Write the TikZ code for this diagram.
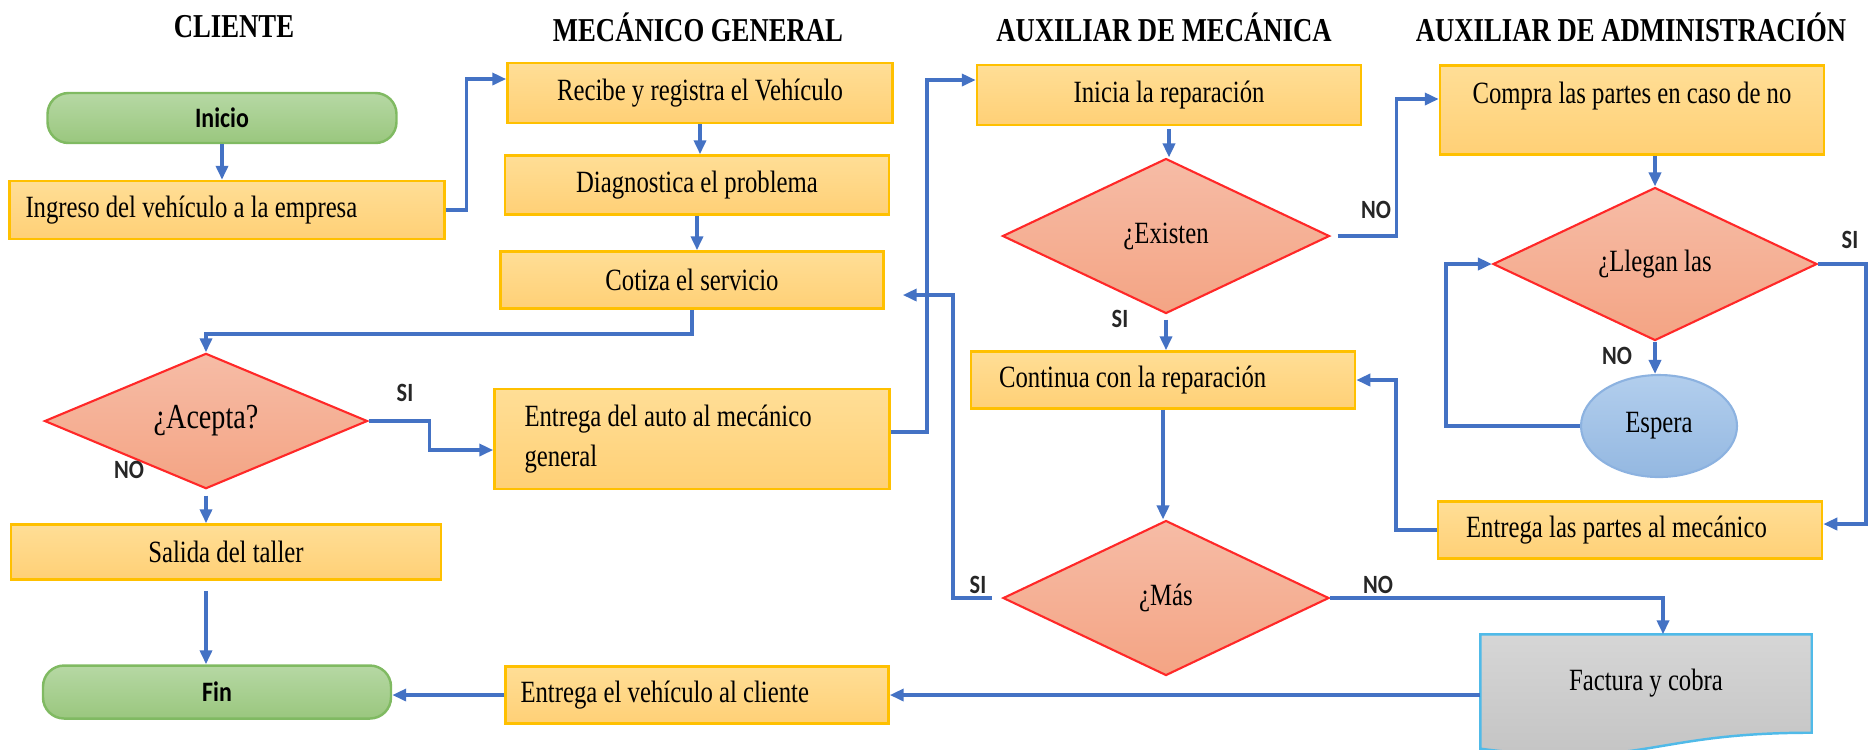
\documentclass[tikz,border=0pt]{standalone}
\usepackage{fontspec}
\setmainfont{Liberation Serif}[FakeStretch=0.8]
\newfontfamily\etiq{Carlito}[FakeStretch=0.85]
\usetikzlibrary{shapes.geometric, positioning, arrows.meta, calc, backgrounds}
\definecolor{flechaazul}{RGB}{68,114,196}
\definecolor{bordeoro}{RGB}{255,192,0}
\definecolor{naranjaA}{RGB}{255,222,150}
\definecolor{naranjaB}{RGB}{255,208,118}
\definecolor{salmonA}{RGB}{246,188,166}
\definecolor{salmonB}{RGB}{244,164,132}
\definecolor{rojoborde}{RGB}{255,40,40}
\definecolor{verdeA}{RGB}{182,216,164}
\definecolor{verdeB}{RGB}{154,199,126}
\definecolor{verdeborde}{RGB}{128,186,98}
\definecolor{azulA}{RGB}{178,206,237}
\definecolor{azulB}{RGB}{148,184,225}
\definecolor{azulborde}{RGB}{140,178,224}
\definecolor{grisA}{RGB}{214,214,214}
\definecolor{grisB}{RGB}{194,194,194}
\definecolor{celeste}{RGB}{80,186,232}
\tikzset{
  titulo/.style={font=\bfseries\fontsize{9.5}{11}\selectfont},
  inicio/.style={rectangle, rounded corners=6pt, draw=verdeborde, line width=0.7pt, top color=verdeA, bottom color=verdeB, font=\etiq\bfseries\fontsize{8}{9}\selectfont, text centered},
  proceso/.style={rectangle, draw=bordeoro, line width=0.7pt, top color=naranjaA, bottom color=naranjaB, font=\fontsize{8.8}{11}\selectfont, text centered},
  decision/.style={diamond, inner sep=0pt, draw=rojoborde, line width=0.6pt, top color=salmonA, bottom color=salmonB, font=\fontsize{8.8}{11}\selectfont},
  espera/.style={ellipse, inner sep=0pt, draw=azulborde, line width=0.6pt, top color=azulA, bottom color=azulB, font=\fontsize{8.8}{11}\selectfont},
  documento/.style={rectangle, inner sep=0pt, minimum width=3.3cm, minimum height=0.97cm, font=\fontsize{8.8}{11}\selectfont},
  flecha/.style={line width=1pt, draw=flechaazul, -{Triangle[length=1.4mm, width=1.2mm]}},
  etiqueta/.style={font=\etiq\bfseries\fontsize{7.5}{9}\selectfont, text=black!85}
}

\begin{document}
\begin{tikzpicture}
    \useasboundingbox (0,0) rectangle (18.71,-7.49);

    % 1. Titulos de los carriles
    \node[titulo] (tCliente) at (2.34,-0.27) {CLIENTE};
    \node[titulo] (tMecanico) at (6.98,-0.27) {MECÁNICO GENERAL};
    \node[titulo] (tAuxMec) at (11.64,-0.27) {AUXILIAR DE MECÁNICA};
    \node[titulo] (tAuxAdm) at (16.31,-0.27) {AUXILIAR DE ADMINISTRACIÓN};

    % 2. Cliente
    \node[inicio, minimum width=3.49cm, minimum height=0.50cm] (Inicio) at (2.22,-1.18) {Inicio};
    \node[proceso, minimum height=0.58cm, inner xsep=0.16cm, text width=4.03cm, align=flush left] (Ingreso) at (2.27,-2.10) {Ingreso del vehículo a la empresa};
    \node[decision, minimum width=3.23cm, minimum height=1.05cm, font=\fontsize{10}{12}\selectfont] (Acepta) at (2.06,-4.21) {¿Acepta?};
    \node[proceso, minimum width=4.30cm, minimum height=0.55cm] (Salida) at (2.26,-5.52) {Salida del taller};
    \node[inicio, minimum width=3.48cm, minimum height=0.53cm] (Fin) at (2.17,-6.92) {Fin};

    % 3. Mecanico general
    \node[proceso, minimum width=3.85cm, minimum height=0.60cm] (Recibe) at (7.00,-0.93) {Recibe y registra el Vehículo};
    \node[proceso, minimum width=3.84cm, minimum height=0.59cm] (Diagnostica) at (6.97,-1.85) {Diagnostica el problema};
    \node[proceso, minimum width=3.83cm, minimum height=0.57cm] (Cotiza) at (6.92,-2.80) {Cotiza el servicio};
    \node[proceso, minimum height=1.00cm, inner xsep=0.30cm, text width=3.35cm, align=flush left, font=\fontsize{8.8}{11.5}\selectfont] (EntregaAuto) at (6.92,-4.39) {Entrega del auto al mecánico\\general};
    \node[proceso, minimum height=0.57cm, inner xsep=0.15cm, text width=3.53cm, align=flush left] (EntregaVehiculo) at (6.97,-6.95) {Entrega el vehículo al cliente};

    % 4. Auxiliar de mecanica
    \node[proceso, minimum width=3.84cm, minimum height=0.60cm] (Inicia) at (11.69,-0.95) {Inicia la reparación};
    \node[decision, minimum width=3.27cm, minimum height=1.55cm] (Existen) at (11.66,-2.36) {¿Existen};
    \node[proceso, minimum height=0.57cm, inner xsep=0.28cm, text width=3.28cm, align=flush left] (Continua) at (11.63,-3.80) {Continua con la reparación};
    \node[decision, minimum width=3.26cm, minimum height=1.55cm] (Mas) at (11.66,-5.98) {¿Más};

    % 5. Auxiliar de administracion
    \node[proceso, minimum width=3.84cm, minimum height=0.89cm, text depth=0.35cm] (Compra) at (16.32,-1.10) {Compra las partes en caso de no};
    \node[decision, minimum width=3.24cm, minimum height=1.53cm] (Llegan) at (16.55,-2.64) {¿Llegan las};
    \node[espera, minimum width=1.56cm, minimum height=1.02cm] (Espera) at (16.59,-4.26) {Espera};
    \node[proceso, minimum height=0.57cm, inner xsep=0.28cm, text width=3.28cm, align=flush left] (EntregaPartes) at (16.30,-5.30) {Entrega las partes al mecánico};
    \node[documento] (Factura) at (16.46,-6.835) {Factura y cobra};
    \begin{scope}[on background layer]
        \draw[draw=celeste, line width=0.7pt, top color=grisA, bottom color=grisB]
            (Factura.north west) -- (Factura.north east) -- (Factura.south east)
            .. controls +(-1.65,0) and +(1.65,-0.21) .. ([yshift=-0.16cm]Factura.south west) -- cycle;
    \end{scope}

    % 6. Conexiones
    \draw[flecha] (Inicio.south) -- (Inicio.south |- Ingreso.north);
    \draw[flecha] (Ingreso.east) -- ++(0.21,0) |- ([yshift=0.14cm]Recibe.west);
    \draw[flecha] (Recibe.south) -- (Recibe.south |- Diagnostica.north);
    \draw[flecha] (Diagnostica.south) -- (Diagnostica.south |- Cotiza.north);
    \draw[flecha] (Cotiza.south) -- ++(0,-0.24) -| (Acepta.north);
    \draw[flecha] (Acepta.east) -- ++(0.61,0) |- ([yshift=-0.11cm]EntregaAuto.west);
    \draw[flecha, shorten <=0.6mm] (Acepta.south) -- (Acepta.south |- Salida.north);
    \draw[flecha, shorten <=1mm] (Acepta.south |- Salida.south) -- (Acepta.south |- Fin.north);
    \draw[flecha] ([yshift=0.07cm]EntregaAuto.east) -- ++(0.36,0) |- ([yshift=0.15cm]Inicia.west);
    \draw[flecha, shorten <=0.3mm] (Inicia.south) -- (Inicia.south |- Existen.north);
    \draw[flecha, shorten <=0.7mm] (Existen.east) -- ++(0.66,0) |- ([yshift=0.11cm]Compra.west);
    \draw[flecha, shorten <=0.5mm] (Existen.south) -- (Existen.south |- Continua.north);
    \draw[flecha] (Continua.south) -- (Continua.south |- Mas.north);
    \draw[flecha, shorten <=1mm, shorten >=1.8mm] (Mas.west) -- ++(-0.49,0) |- ([yshift=-0.15cm]Cotiza.east);
    \draw[flecha] (Mas.east) -| ([xshift=0.17cm]Factura.north);
    \draw[flecha] (Llegan.north |- Compra.south) -- (Llegan.north);
    \draw[flecha] (Llegan.south) -- (Llegan.south |- Espera.north);
    \draw[flecha] (Espera.west) -- ++(-1.34,0) |- (Llegan.west);
    \draw[flecha] (Llegan.east) -- ++(0.48,0) |- ([yshift=0.06cm]EntregaPartes.east);
    \draw[flecha] (EntregaPartes.west) -- ++(-0.41,0) |- (Continua.east);
    \draw[flecha] (Factura.west |- EntregaVehiculo.east) -- (EntregaVehiculo.east);
    \draw[flecha] (EntregaVehiculo.west) -- (EntregaVehiculo.west -| Fin.east);

    % 7. Etiquetas SI / NO
    \node[etiqueta] (siAcepta) at (4.05,-3.93) {SI};
    \node[etiqueta] (noAcepta) at (1.29,-4.70) {NO};
    \node[etiqueta] (siExisten) at (11.20,-3.19) {SI};
    \node[etiqueta] (noExisten) at (13.76,-2.10) {NO};
    \node[etiqueta] (siMas) at (9.78,-5.85) {SI};
    \node[etiqueta] (noMas) at (13.78,-5.85) {NO};
    \node[etiqueta] (noLlegan) at (16.17,-3.56) {NO};
    \node[etiqueta] (siLlegan) at (18.50,-2.40) {SI};

\end{tikzpicture}
\end{document}
